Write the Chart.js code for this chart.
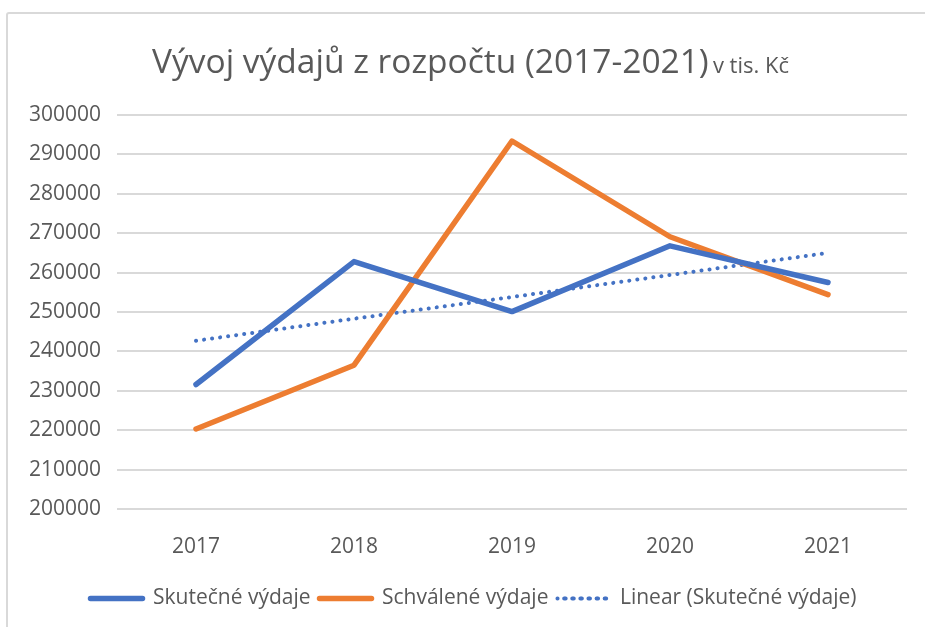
<!DOCTYPE html>
<html>
<head>
<meta charset="utf-8">
<script src="https://cdn.jsdelivr.net/npm/chart.js@4/dist/chart.umd.min.js"></script>
<style>
  html, body { margin: 0; padding: 0; background: #fff; overflow: hidden; }
  #wrap { position: relative; width: 925px; height: 627px; }
  #frame { position: absolute; left: 6px; top: 12px; width: 1000px; height: 1000px;
           border: 2px solid #d9d9d9; border-radius: 3px; }
  #title { position: absolute; left: 0; width: 925px; top: 37px; padding-left: 8px; text-align: center;
           font-family: "Open Sans", sans-serif; color: #595959; white-space: nowrap; }
  #title .main { font-size: 33.5px; }
  #title .unit { font-size: 22px; }
  canvas { position: absolute; left: 0; top: 0; }
</style>
</head>
<body>
<div id="wrap">
  <div id="frame"></div>
  <canvas id="chart" width="925" height="627"></canvas>
  <div id="title"><span class="main">Vývoj výdajů z rozpočtu (2017-2021)</span> <span class="unit">v tis. Kč</span></div>
</div>
<script>
// values
const years = ['2017', '2018', '2019', '2020', '2021']
const actual = [231600, 262800, 250100, 266800, 257500]     // Skutečné výdaje
const approved = [220300, 236500, 293400, 269100, 254400]   // Schválené výdaje
const trend = [242700, 248300, 253800, 259400, 265000]      // Linear (Skutečné výdaje)
const yMin = 200000
const yMax = 300000
const yStep = 10000

const blue = '#4472C4'
const orange = '#ED7D31'
const textColor = '#595959'
const gridColor = '#d9d9d9'
const font = '"Open Sans", sans-serif'

// the legend in the original sits a bit right of the plot centre
const legendShift = {
  id: 'legendShift',
  afterLayout(chart) {
    const lg = chart.legend
    if (!lg) return
    lg.left += 20
    lg.right += 20
  }
}

const ctx = document.getElementById('chart')
const myChart = new Chart(ctx, {
  type: 'line',
  data: {
    labels: years,
    datasets: [
      {
        label: 'Skutečné výdaje',
        data: actual,
        borderColor: blue,
        backgroundColor: blue,
        borderWidth: 5.5,
        borderCapStyle: 'round',
        borderJoinStyle: 'round',
        pointRadius: 0,
        tension: 0
      },
      {
        label: 'Schválené výdaje',
        data: approved,
        borderColor: orange,
        backgroundColor: orange,
        borderWidth: 5.5,
        borderCapStyle: 'round',
        borderJoinStyle: 'round',
        pointRadius: 0,
        tension: 0
      },
      {
        label: 'Linear (Skutečné výdaje)',
        data: trend,
        borderColor: blue,
        backgroundColor: blue,
        borderWidth: 4,
        borderDash: [0.1, 8],
        borderCapStyle: 'round',
        pointRadius: 0,
        tension: 0
      }
    ]
  },
  plugins: [legendShift],
  options: {
    responsive: false,
    animation: false,
    layout: { padding: { left: 0, right: 18, top: 115, bottom: 8 } },
    plugins: {
      title: { display: false },
      tooltip: { enabled: false },
      legend: {
        position: 'bottom',
        labels: {
          color: textColor,
          font: { family: font, size: 21 },
          boxWidth: 52,
          boxHeight: 0,
          padding: 9
        }
      }
    },
    scales: {
      x: {
        offset: true,
        grid: { display: false },
        border: { display: false },
        ticks: { color: textColor, font: { family: font, size: 21 }, padding: 17 },
        afterFit: (s) => { s.height = 70 }
      },
      y: {
        min: yMin,
        max: yMax,
        grid: { color: gridColor, lineWidth: 2, drawTicks: false },
        border: { display: false },
        ticks: {
          stepSize: yStep,
          color: textColor,
          font: { family: font, size: 21 },
          padding: 16,
          callback: (v) => String(v)
        },
        afterFit: (s) => { s.width = 117 }
      }
    }
  }
})
</script>
</body>
</html>
